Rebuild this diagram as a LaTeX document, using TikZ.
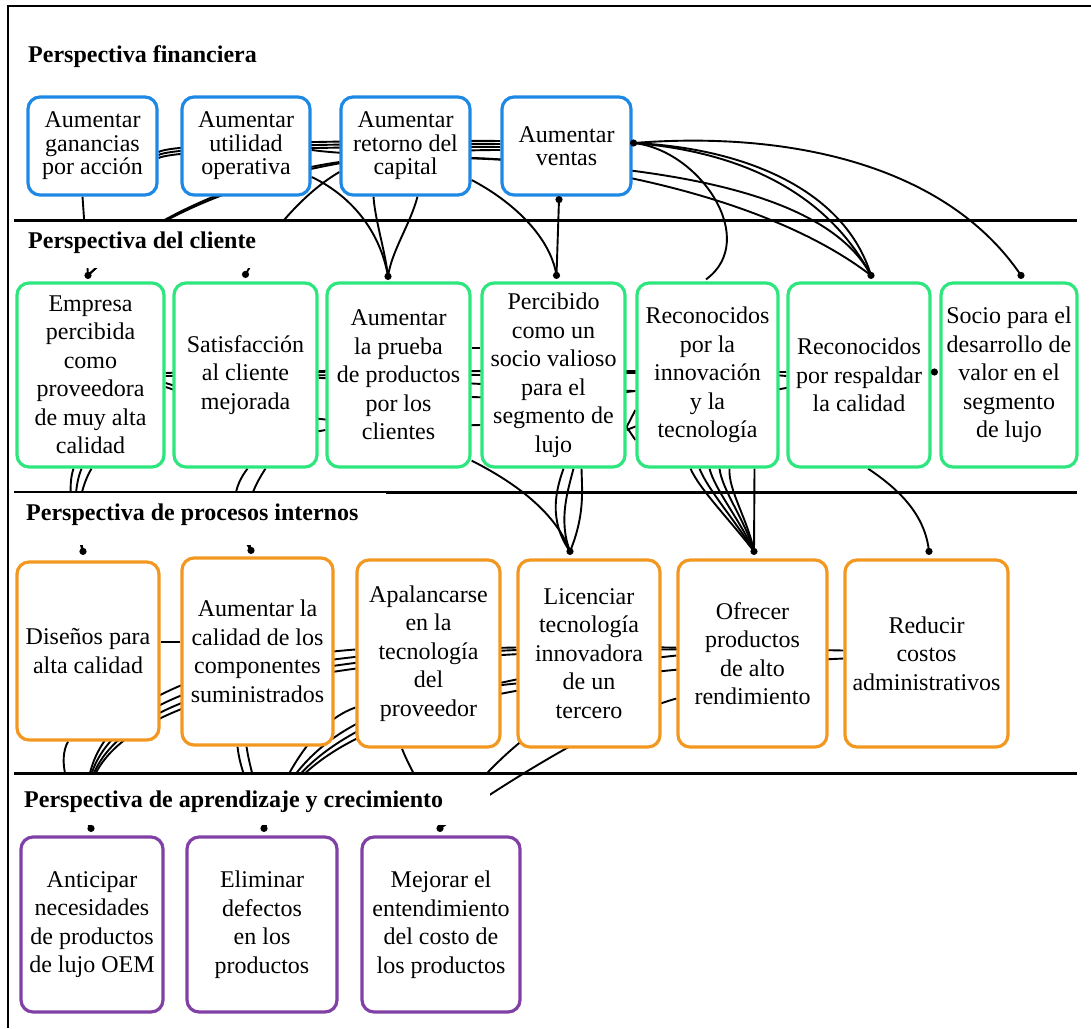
\documentclass[tikz,border=0pt]{standalone}
\usepackage{fontspec}
\setmainfont{Liberation Serif}
\usetikzlibrary{calc}
\pgfdeclarelayer{background}
\pgfsetlayers{background,main}

\definecolor{finblue}{RGB}{30,136,229}
\definecolor{cligreen}{RGB}{45,230,125}
\definecolor{procorange}{RGB}{242,152,32}
\definecolor{learnpurple}{RGB}{128,64,165}

\begin{document}
\begin{tikzpicture}[x=1pt,y=-1pt,
  objbox/.style={draw, line width=3.2pt, rounded corners=12pt, fill=white,
    align=center, inner sep=0pt, font=\fontsize{24}{28.5}\selectfont},
  finbox/.style={objbox, draw=finblue, minimum width=129pt, minimum height=98pt,
    font=\fontsize{24}{23.5}\selectfont},
  clibox/.style={objbox, draw=cligreen, minimum height=184pt},
  procbox/.style={objbox, draw=procorange, minimum height=187pt},
  learnbox/.style={objbox, draw=learnpurple, minimum height=175pt},
  header/.style={anchor=west, inner sep=0pt, font=\fontsize{24}{28}\selectfont\bfseries},
  link/.style={line width=1.9pt, black},
  sepline/.style={line width=3pt, black},
  band/.style={fill=white, draw=none}
]
\useasboundingbox (0,0) rectangle (1091,1028);

% ---------------- objectives ----------------
\node[finbox] (F1) at (92.5,146) {Aumentar\\ganancias\\por acción};
\node[finbox, minimum width=128pt] (F2) at (246,146) {Aumentar\\utilidad\\operativa};
\node[finbox] (F3) at (405.5,146) {Aumentar\\retorno del\\capital};
\node[finbox] (F4) at (566.5,146) {Aumentar\\ventas};

\node[clibox, minimum width=147pt] (C1) at (90.5,375) {Empresa\\percibida\\como\\proveedora\\de muy alta\\calidad};
\node[clibox, minimum width=143pt] (C2) at (245.5,375) {Satisfacción\\al cliente\\mejorada};
\node[clibox, minimum width=143pt] (C3) at (398.5,375) {Aumentar\\la prueba\\de productos\\por los\\clientes};
\node[clibox, minimum width=143pt] (C4) at (553.5,375) {Percibido\\como un\\socio valioso\\para el\\segmento de\\lujo};
\node[clibox, minimum width=141pt] (C5) at (707.5,375) {Reconocidos\\por la\\innovación\\y la\\tecnología};
\node[clibox, minimum width=142pt] (C6) at (859,375) {Reconocidos\\por respaldar\\la calidad};
\node[clibox, minimum width=136pt] (C7) at (1009,375) {Socio para el\\desarrollo de\\valor en el\\segmento\\de lujo};

\node[procbox, minimum width=142pt, minimum height=178pt] (P1) at (88,651) {Diseños para\\alta calidad};
\node[procbox, minimum width=151pt] (P2) at (257.5,651.5) {Aumentar la\\calidad de los\\componentes\\suministrados};
\node[procbox, minimum width=143pt] (P3) at (428.5,653.5) {Apalancarse\\en la\\tecnología\\del\\proveedor};
\node[procbox, minimum width=142pt] (P4) at (589,653.5) {Licenciar\\tecnología\\innovadora\\de un\\tercero};
\node[procbox, minimum width=149pt] (P5) at (752.5,653.5) {Ofrecer\\productos\\de alto\\rendimiento};
\node[procbox, minimum width=163pt] (P6) at (926.5,653.5) {Reducir\\costos\\administrativos};

\node[learnbox, minimum width=142pt] (L1) at (92,924.5) {Anticipar\\necesidades\\de productos\\de lujo OEM};
\node[learnbox, minimum width=150pt] (L2) at (262,924.5) {Eliminar\\defectos\\en los\\productos};
\node[learnbox, minimum width=158pt] (L3) at (441,924.5) {Mejorar el\\entendimiento\\del costo de\\los productos};

% ---------------- connector end points ----------------
\coordinate (tF4r) at ($(F4.east)+(1,-3)$);
\coordinate (tF4b) at ($(F4.south)+(-7.5,3)$);
\coordinate (tC1) at ($(C1.north)+(-2.5,-6)$);
\coordinate (tC2) at ($(C2.north)+(0,-7)$);
\coordinate (tC3) at ($(C3.north)+(-10.5,-5)$);
\coordinate (tC4) at ($(C4.north)+(3,-6)$);
\coordinate (tC5) at ($(C5.north)+(-1.5,-2)$);
\coordinate (tC6) at ($(C6.north)+(12,-6)$);
\coordinate (tC7) at ($(C7.north)+(12,-6)$);
\coordinate (tC7l) at ($(C7.west)+(-5,-3)$);
\coordinate (tP1) at ($(P1.north)+(-5,-9)$);
\coordinate (tP2) at ($(P2.north)+(-6.5,-6)$);
\coordinate (tP4) at ($(P4.north)+(-19,-7)$);
\coordinate (tP5) at ($(P5.north)+(1.5,-7)$);
\coordinate (tP6) at ($(P6.north)+(2.5,-7)$);
\coordinate (tL1) at ($(L1.north)+(-1,-7)$);
\coordinate (tL2) at ($(L2.north)+(2,-7)$);
\coordinate (tL3) at ($(L3.north)+(-1,-7)$);

% ---------------- connectors (behind the boxes) ----------------
\begin{pgfonlayer}{background}
% financial <-> customer
\draw[link] ($(F1.south)+(-10,0)$) -- (tC1);
\draw[link] (tC1) .. controls (130,235) and (250,150) .. ($(F4.west)+(0,4)$);
\draw[link] (tC1) .. controls (150,215) and (250,175) .. ($(F3.west)+(0,16)$);
\draw[link] (tC2) .. controls (265,240) and (300,195) .. ($(F3.west)+(0,26)$);
\draw[link] ($(F1.east)+(0,6)$) .. controls (175,142) and (400,140) .. ($(F4.west)+(0,-5)$);
\draw[link] ($(F1.east)+(0,9)$) .. controls (177,145) and (400,143) .. ($(F4.west)+(0,-2)$);
\draw[link] ($(F1.east)+(0,12)$) .. controls (178,148) and (400,146) .. ($(F4.west)+(0,1)$);
\draw[link] ($(F2.east)+(0,4)$) .. controls (420,165) and (800,140) .. (tC6);
\draw[link] ($(F3.east)+(0,12)$) .. controls (560,160) and (760,190) .. (tC6);
\draw[link] (tF4r) .. controls (800,130) and (950,170) .. (tC7);
\draw[link] (tF4r) .. controls (720,150) and (820,180) .. (tC6);
\draw[link] (tF4r) .. controls (745,148) and (845,190) .. (tC6);
\draw[link] (tF4r) .. controls (700,150) and (760,240) .. (tC5);
\draw[link] ($(F3.east)+(0,34)$) .. controls (510,200) and (550,235) .. (tC4);
\draw[link] (tF4b) -- (tC4);
\draw[link] ($(F2.east)+(0,31)$) .. controls (350,195) and (380,230) .. (tC3);
\draw[link] ($(F3.south)+(-32,0)$) .. controls (375,220) and (385,250) .. (tC3);
\draw[link] ($(F3.south)+(12,0)$) .. controls (410,225) and (392,250) .. (tC3);

% within the customer row
\draw[link] ($(C1.east)+(0,-2)$) .. controls (240,370) and (270,372) .. ($(C3.west)+(0,-3)$);
\draw[link] ($(C1.east)+(0,1)$) .. controls (300,376) and (400,374) .. (C4.west);
\draw[link] ($(C1.east)+(0,8)$) .. controls (220,400) and (300,430) .. ($(C4.west)+(0,50)$);
\draw[link] ($(C1.east)+(0,12)$) .. controls (220,405) and (280,440) .. ($(C3.west)+(0,55)$);
\draw[link] ($(C2.east)+(0,-4)$) .. controls (400,370) and (550,372) .. ($(C5.west)+(0,-2)$);
\draw[link] ($(C2.east)+(0,3)$) .. controls (450,380) and (560,390) .. ($(C5.west)+(0,16)$);
\draw[link] ($(C3.east)+(0,-27)$) -- ($(C4.west)+(0,-27)$);
\draw[link] ($(C3.east)+(0,-4)$) .. controls (600,370) and (700,372) .. ($(C6.west)+(0,-3)$);
\draw[link] ($(C3.east)+(0,22)$) .. controls (560,400) and (600,395) .. ($(C5.west)+(0,16)$);
\draw[link] ($(C4.east)+(0,-2)$) .. controls (700,372) and (740,372) .. ($(C6.west)+(0,1)$);
\draw[link] ($(C4.east)+(0,55)$) .. controls (700,400) and (850,372) .. (tC7l);
\draw[link] ($(C4.east)+(0,52)$) -- ($(C5.west)+(0,35)$);
\draw[link] ($(C4.east)+(0,52)$) -- ($(C5.west)+(0,65)$);

% customer <-> internal processes
\draw[link] (tP1) .. controls (70,510) and (68,485) .. ($(C1.south)+(-17,0)$);
\draw[link] (tP1) .. controls (72,510) and (75,485) .. ($(C1.south)+(-9,0)$);
\draw[link] (tP1) .. controls (74,510) and (82,485) .. ($(C1.south)+(1,0)$);
\draw[link] (tP2) .. controls (225,510) and (235,485) .. ($(C2.south)+(2,0)$);
\draw[link] (tP2) .. controls (240,510) and (255,485) .. ($(C2.south)+(20,0)$);
\draw[link] ($(C3.south east)+(0,-8)$) .. controls (510,480) and (555,510) .. (tP4);
\draw[link] (tP4) .. controls (548,520) and (556,490) .. ($(C4.south)+(10,0)$);
\draw[link] (tP4) .. controls (558,520) and (568,490) .. ($(C4.south)+(20,0)$);
\draw[link] (tP4) .. controls (585,515) and (582,490) .. ($(C4.south)+(28,0)$);
\draw[link] (tP5) .. controls (730,520) and (700,490) .. ($(C5.south)+(-17,0)$);
\draw[link] (tP5) .. controls (735,520) and (708,490) .. ($(C5.south)+(-8,0)$);
\draw[link] (tP5) .. controls (740,520) and (715,490) .. ($(C5.south)+(2,0)$);
\draw[link] (tP5) .. controls (745,520) and (722,490) .. ($(C5.south)+(12,0)$);
\draw[link] (tP5) .. controls (748,520) and (728,490) .. ($(C5.south)+(22,0)$);
\draw[link] (tP5) -- ($(C5.south)+(47,0)$);
\draw[link] ($(C6.south)+(9,0)$) .. controls (900,490) and (925,515) .. (tP6);

% internal processes <-> learning
\draw[link] ($(P1.east)+(0,-9)$) -- ($(P2.west)+(0,-9.5)$);
\draw[link] (tL1) .. controls (60,700) and (220,660) .. ($(P3.west)+(0,-4)$);
\draw[link] (tL1) .. controls (58,700) and (250,652) .. ($(P4.west)+(0,-6)$);
\draw[link] (tL1) .. controls (56,695) and (300,645) .. ($(P5.west)+(0,-6)$);
\draw[link] (tL1) .. controls (54,690) and (350,640) .. ($(P6.west)+(0,-3)$);
\draw[link] (tL1) .. controls (65,790) and (58,760) .. ($(P1.south)+(-20,0)$);
\draw[link] (tL2) .. controls (290,760) and (320,720) .. ($(P3.west)+(0,54)$);
\draw[link] (tL2) .. controls (295,760) and (340,700) .. ($(P4.west)+(0,30)$);
\draw[link] (tL2) .. controls (300,755) and (360,690) .. ($(P5.west)+(0,2)$);
\draw[link] (tL2) .. controls (305,750) and (380,680) .. ($(P6.west)+(0,5)$);
\draw[link] (tL2) .. controls (250,790) and (240,770) .. ($(P2.south)+(-20,0)$);
\draw[link] (tL2) .. controls (258,790) and (250,770) .. ($(P2.south)+(-11,0)$);
\draw[link] (tL3) .. controls (430,800) and (410,770) .. ($(P3.south)+(-26.5,0)$);
\draw[link] (tL3) .. controls (462,800) and (495,760) .. ($(P4.south west)+(15,-15)$);
\draw[link] (tL3) .. controls (480,800) and (600,720) .. ($(P5.west)+(0,45)$);
\end{pgfonlayer}

% ---------------- perspective bands and separators ----------------
\fill[band] (9,222) rectangle (290,268);
\fill[band] (9,493) rectangle (386,545);
\fill[band] (9,775) rectangle (490,825);

\draw[sepline] (14,220) -- (1077,220);
\draw[line width=1.4pt] (14,492) -- (386,492);
\draw[sepline] (386,492) -- (1077,492);
\draw[sepline] (14,773) -- (1077,773);

\node[header] (hFin) at (28,57) {Perspectiva financiera};
\node[header] (hCli) at (28,243) {Perspectiva del cliente};
\node[header] (hPro) at (26,515) {Perspectiva de procesos internos};
\node[header] (hApr) at (24,802) {Perspectiva de aprendizaje y crecimiento};

% connector end dots
\foreach \p in {tF4r,tF4b,tC1,tC2,tC3,tC4,tC6,tC7,tC7l,tP1,tP2,tP4,tP5,tP6,tL1,tL2,tL3}
  \fill (\p) circle (3.6);

% outer frame
\draw[line width=2pt] (8,1028) -- (8,6) -- (1091,6);
\end{tikzpicture}
\end{document}
